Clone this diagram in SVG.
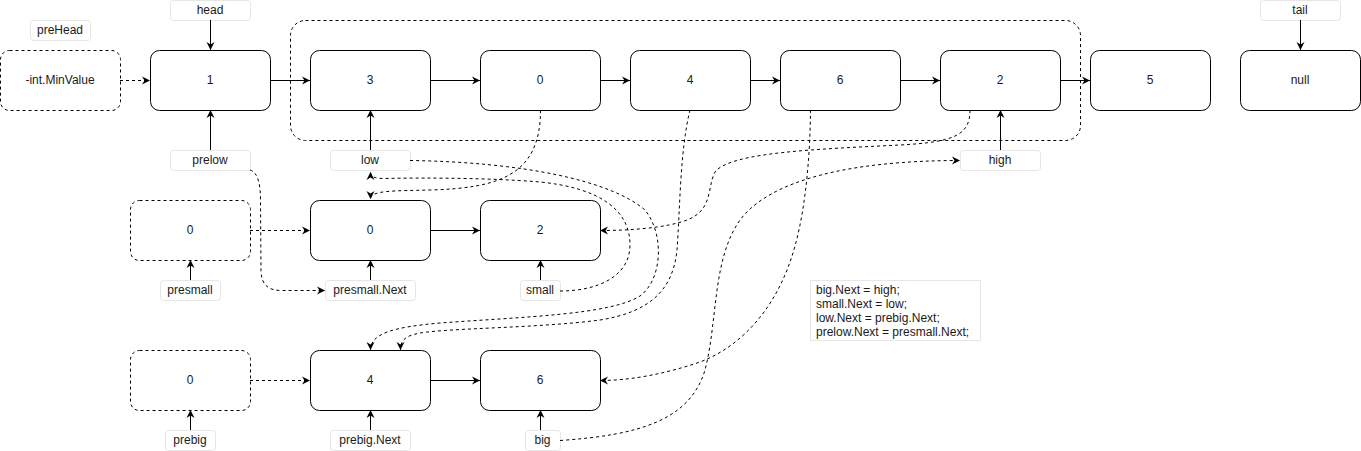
<svg xmlns="http://www.w3.org/2000/svg" width="1361" height="451" viewBox="0 0 1361 451">
<style>
.n{fill:#fff;stroke:#000;stroke-width:1}
.nd{fill:#fff;stroke:#000;stroke-width:1;stroke-dasharray:3 3}
.l{fill:#fff;stroke:#e6e6e6;stroke-width:1}
.t{font-family:"Liberation Sans",Arial,sans-serif;font-size:12px;fill:#1a1a1a;text-anchor:middle}
.tl{font-family:"Liberation Sans",Arial,sans-serif;font-size:12px;fill:#1a1a1a}
.e{fill:none;stroke:#000;stroke-width:1;marker-end:url(#a)}
.ed{fill:none;stroke:#000;stroke-width:1;stroke-dasharray:3 3;marker-end:url(#a)}
</style>
<defs>
<marker id="a" markerUnits="userSpaceOnUse" markerWidth="10" markerHeight="10" refX="8" refY="4" orient="auto" overflow="visible">
<path d="M0,0 L8,4 L0,8 L2.5,4 Z" fill="#000"/>
</marker>
</defs>
<rect width="1361" height="451" fill="#fff"/>
<g id="group-box"><rect x="290.5" y="20.5" width="790" height="120" rx="15" fill="none" stroke="#000" stroke-dasharray="3 3"/></g>

<g id="nodes">
<g id="preHeadNode"><rect class="nd" x="0.5" y="50.5" width="120" height="60" rx="9"/><text class="t" x="60" y="84">-int.MinValue</text></g>
<g id="n1"><rect class="n" x="150.5" y="50.5" width="120" height="60" rx="9"/><text class="t" x="210" y="84">1</text></g>
<g id="n3"><rect class="n" x="310.5" y="50.5" width="120" height="60" rx="9"/><text class="t" x="370" y="84">3</text></g>
<g id="n0top"><rect class="n" x="480.5" y="50.5" width="120" height="60" rx="9"/><text class="t" x="540" y="84">0</text></g>
<g id="n4top"><rect class="n" x="630.5" y="50.5" width="120" height="60" rx="9"/><text class="t" x="690" y="84">4</text></g>
<g id="n6top"><rect class="n" x="780.5" y="50.5" width="120" height="60" rx="9"/><text class="t" x="840" y="84">6</text></g>
<g id="n2top"><rect class="n" x="940.5" y="50.5" width="120" height="60" rx="9"/><text class="t" x="1000" y="84">2</text></g>
<g id="n5"><rect class="n" x="1090.5" y="50.5" width="120" height="60" rx="9"/><text class="t" x="1150" y="84">5</text></g>
<g id="nnull"><rect class="n" x="1240.5" y="50.5" width="120" height="60" rx="9"/><text class="t" x="1300" y="84">null</text></g>

<g id="presmallNode"><rect class="nd" x="130.5" y="200.5" width="120" height="60" rx="9"/><text class="t" x="190" y="234">0</text></g>
<g id="n0mid"><rect class="n" x="310.5" y="200.5" width="120" height="60" rx="9"/><text class="t" x="370" y="234">0</text></g>
<g id="n2mid"><rect class="n" x="480.5" y="200.5" width="120" height="60" rx="9"/><text class="t" x="540" y="234">2</text></g>

<g id="prebigNode"><rect class="nd" x="130.5" y="350.5" width="120" height="60" rx="9"/><text class="t" x="190" y="384">0</text></g>
<g id="n4bot"><rect class="n" x="310.5" y="350.5" width="120" height="60" rx="9"/><text class="t" x="370" y="384">4</text></g>
<g id="n6bot"><rect class="n" x="480.5" y="350.5" width="120" height="60" rx="9"/><text class="t" x="540" y="384">6</text></g>

<g id="lbl-preHead"><rect class="l" x="30.5" y="20.5" width="60" height="20" rx="3"/><text class="t" x="60" y="34">preHead</text></g>
<g id="lbl-head"><rect class="l" x="170.5" y="0.5" width="80" height="20" rx="3"/><text class="t" x="210" y="14">head</text></g>
<g id="lbl-tail"><rect class="l" x="1260.5" y="0.5" width="80" height="20" rx="3"/><text class="t" x="1300" y="14">tail</text></g>
<g id="lbl-prelow"><rect class="l" x="170.5" y="150.5" width="80" height="20" rx="3"/><text class="t" x="210" y="164">prelow</text></g>
<g id="lbl-low"><rect class="l" x="330.5" y="150.5" width="80" height="20" rx="3"/><text class="t" x="370" y="164">low</text></g>
<g id="lbl-high"><rect class="l" x="960.5" y="150.5" width="80" height="20" rx="3"/><text class="t" x="1000" y="164">high</text></g>
<g id="lbl-presmall"><rect class="l" x="160.5" y="280.5" width="60" height="20" rx="3"/><text class="t" x="190" y="294">presmall</text></g>
<g id="lbl-presmallNext"><rect class="l" x="325.5" y="280.5" width="90" height="20" rx="3"/><text class="t" x="370" y="294">presmall.Next</text></g>
<g id="lbl-small"><rect class="l" x="520.5" y="280.5" width="40" height="20" rx="3"/><text class="t" x="540" y="294">small</text></g>
<g id="lbl-prebig"><rect class="l" x="165.5" y="430.5" width="50" height="20" rx="3"/><text class="t" x="190" y="444">prebig</text></g>
<g id="lbl-prebigNext"><rect class="l" x="330.5" y="430.5" width="80" height="20" rx="3"/><text class="t" x="370" y="444">prebig.Next</text></g>
<g id="lbl-big"><rect class="l" x="525.5" y="430.5" width="35" height="20" rx="3"/><text class="t" x="542.5" y="444">big</text></g>

<g id="code"><rect class="l" x="810.5" y="280.5" width="170" height="60"/>
<text class="tl" x="816" y="294">big.Next = high;</text>
<text class="tl" x="816" y="308">small.Next = low;</text>
<text class="tl" x="816" y="322">low.Next = prebig.Next;</text>
<text class="tl" x="816" y="336">prelow.Next = presmall.Next;</text></g>
</g>

<g id="connectors">
<path class="e" d="M210.5,20 L210.5,50"/>
<path class="e" d="M1300.5,20 L1300.5,50"/>
<path class="ed" d="M120,80.5 L150,80.5"/>
<path class="e" d="M270,80.5 L310,80.5"/>
<path class="e" d="M430,80.5 L480,80.5"/>
<path class="e" d="M600,80.5 L630,80.5"/>
<path class="e" d="M750,80.5 L780,80.5"/>
<path class="e" d="M900,80.5 L940,80.5"/>
<path class="e" d="M1060,80.5 L1090,80.5"/>
<path class="e" d="M210.5,150 L210.5,110"/>
<path class="e" d="M370.5,150 L370.5,110"/>
<path class="e" d="M1000.5,150 L1000.5,110"/>
<path class="ed" d="M250,230.5 L310,230.5"/>
<path class="e" d="M430,230.5 L480,230.5"/>
<path class="e" d="M190.5,280 L190.5,260"/>
<path class="e" d="M370.5,280 L370.5,260"/>
<path class="e" d="M540.5,280 L540.5,260"/>
<path class="ed" d="M250,380.5 L310,380.5"/>
<path class="e" d="M430,380.5 L480,380.5"/>
<path class="e" d="M190.5,430 L190.5,410"/>
<path class="e" d="M370.5,430 L370.5,410"/>
<path class="e" d="M540.5,430 L540.5,410"/>

<path class="ed" d="M250,170 C258,172 260.5,185 260.5,200 L261,272 C262,285 268,290.5 282,290.5 L325,290.5"/>
<path class="ed" d="M540.5,110 C540.5,175 500,188 430,190 C395,191 370.5,190 370.5,199"/>
<path class="ed" d="M560,291 C600,291 630,275 630,245 C630,210 600,188 540,182 C480,177 400,178 385,178.5 C375,178.5 370.5,177 370.5,172"/>
<path class="ed" d="M410,160.5 C520,162 610,180 645,210 C665,235 662,280 640,296 C610,315 520,317 440,323 C395,327 370.5,333 370.5,350"/>
<path class="ed" d="M690,110 C680,150 680,210 677,250 C673,290 650,312 600,320 C540,328 450,328 420,333 C405,336 400.5,340 400.5,350"/>
<path class="ed" d="M970,110 C970,135 955,142 900,145 C820,149 730,152 715,172 C708,185 712,205 695,216 C680,226 640,230.5 600,230.5"/>
<path class="ed" d="M810.5,110 C810,160 805,220 790,262 C775,305 745,345 700,362 C665,374 630,380.5 600,380.5"/>
<path class="ed" d="M560,440.5 C640,435 690,420 705,370 C718,320 712,260 740,220 C770,180 850,160.5 960,160.5"/>
</g>
</svg>
